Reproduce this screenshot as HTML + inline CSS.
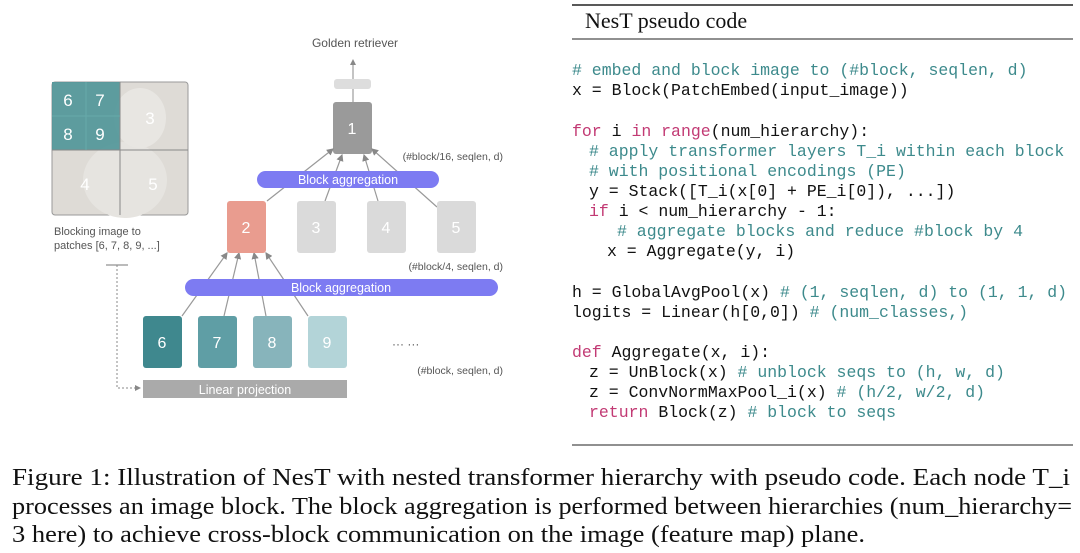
<!DOCTYPE html>
<html><head><meta charset="utf-8"><style>body{margin:0;background:#fff}svg{display:block}</style></head>
<body>
<svg width="1080" height="553" viewBox="0 0 1080 553" xmlns="http://www.w3.org/2000/svg" font-family="Liberation Sans, sans-serif">
<defs><marker id="a" markerWidth="6" markerHeight="6" refX="5" refY="3" orient="auto"><path d="M0,0L6,3L0,6z" fill="#888"/></marker></defs>
<!-- image grid -->
<rect x="52" y="82" width="136" height="133" rx="3" fill="#dedbd6" stroke="#999"/>
<ellipse cx="125" cy="180" rx="42" ry="38" fill="#e6e4e0"/>
<ellipse cx="140" cy="118" rx="26" ry="30" fill="#e8e6e2"/>
<rect x="52" y="82" width="68" height="68" fill="#4f9598" opacity="0.9"/>
<line x1="120" y1="82" x2="120" y2="215" stroke="#888"/>
<line x1="52" y1="150" x2="188" y2="150" stroke="#888"/>
<line x1="86" y1="82" x2="86" y2="150" stroke="#6aa" />
<line x1="52" y1="116" x2="120" y2="116" stroke="#6aa"/>
<g fill="#fff" font-size="17" text-anchor="middle">
<text x="68" y="106">6</text><text x="100" y="106">7</text><text x="68" y="140">8</text><text x="100" y="140">9</text>
<text x="150" y="124">3</text><text x="85" y="190">4</text><text x="153" y="190">5</text></g>
<g fill="#555" font-size="11"><text x="54" y="235">Blocking image to</text><text x="54" y="249">patches [6, 7, 8, 9, ...]</text></g>
<line x1="106" y1="265" x2="128" y2="265" stroke="#777"/>
<path d="M117,265 V388 H140" fill="none" stroke="#888" stroke-dasharray="2,2" marker-end="url(#a)"/>
<!-- tree -->
<text x="355" y="47" fill="#555" font-size="12" text-anchor="middle">Golden retriever</text>
<line x1="353" y1="102" x2="353" y2="60" stroke="#888" marker-end="url(#a)"/>
<rect x="334" y="79" width="37" height="10" rx="3" fill="#ddd"/>
<rect x="333" y="102" width="39" height="52" rx="3" fill="#9a9a9a"/>
<text x="352" y="134" fill="#fff" font-size="16" text-anchor="middle">1</text>
<g stroke="#999" stroke-width="1.2" marker-end="url(#a)">
<line x1="267" y1="201" x2="333" y2="149"/><line x1="325" y1="201" x2="342" y2="155"/>
<line x1="378" y1="201" x2="364" y2="155"/><line x1="437" y1="207" x2="372" y2="149"/>
<line x1="182" y1="316" x2="227" y2="253"/><line x1="224" y1="316" x2="239" y2="253"/>
<line x1="266" y1="316" x2="254" y2="253"/><line x1="308" y1="316" x2="266" y2="253"/>
</g>
<rect x="257" y="171" width="182" height="17" rx="8.5" fill="#7d7bf2"/>
<text x="348" y="184" fill="#fff" font-size="12.5" text-anchor="middle">Block aggregation</text>
<text x="503" y="160" fill="#555" font-size="10.5" text-anchor="end">(#block/16, seqlen, d)</text>
<rect x="227" y="201" width="39" height="52" rx="3" fill="#e99c8f"/>
<rect x="297" y="201" width="39" height="52" rx="3" fill="#dadada"/>
<rect x="367" y="201" width="39" height="52" rx="3" fill="#dadada"/>
<rect x="437" y="201" width="39" height="52" rx="3" fill="#dadada"/>
<g fill="#fff" font-size="16" text-anchor="middle"><text x="246" y="233">2</text><text x="316" y="233">3</text><text x="386" y="233">4</text><text x="456" y="233">5</text></g>
<text x="503" y="270" fill="#555" font-size="10.5" text-anchor="end">(#block/4, seqlen, d)</text>
<rect x="185" y="279" width="313" height="17" rx="8.5" fill="#7d7bf2"/>
<text x="341" y="292" fill="#fff" font-size="12.5" text-anchor="middle">Block aggregation</text>
<rect x="143" y="316" width="39" height="52" rx="3" fill="#3f888e"/>
<rect x="198" y="316" width="39" height="52" rx="3" fill="#5f9ea5"/>
<rect x="253" y="316" width="39" height="52" rx="3" fill="#87b4bb"/>
<rect x="308" y="316" width="39" height="52" rx="3" fill="#b3d4d8"/>
<g fill="#fff" font-size="16" text-anchor="middle"><text x="162" y="348">6</text><text x="217" y="348">7</text><text x="272" y="348">8</text><text x="327" y="348">9</text></g>
<text x="392" y="348" fill="#555" font-size="12">···  ···</text>
<text x="503" y="374" fill="#555" font-size="10.5" text-anchor="end">(#block, seqlen, d)</text>
<rect x="143" y="380" width="204" height="18" fill="#aaa"/>
<text x="245" y="394" fill="#fff" font-size="12.5" text-anchor="middle">Linear projection</text>
<!-- code panel -->
<line x1="572" y1="5" x2="1073" y2="5" stroke="#222" stroke-width="1.5"/>
<text x="585" y="28" font-family="Liberation Serif, serif" font-size="22" fill="#111">NesT pseudo code</text>
<line x1="572" y1="39" x2="1073" y2="39" stroke="#222" stroke-width="1"/>
<line x1="572" y1="445" x2="1073" y2="445" stroke="#222" stroke-width="1"/>
<g font-family="Liberation Mono, monospace" font-size="16.5" fill="#111" xml:space="preserve">
<text x="572" y="75" fill="#3d8a8c"># embed and block image to (#block, seqlen, d)</text>
<text x="572" y="95">x = Block(PatchEmbed(input_image))</text>
<text x="572" y="136"><tspan fill="#c23a74">for</tspan> i <tspan fill="#c23a74">in</tspan> <tspan fill="#c23a74">range</tspan>(num_hierarchy):</text>
<text x="589" y="156" fill="#3d8a8c"># apply transformer layers T_i within each block</text>
<text x="589" y="176" fill="#3d8a8c"># with positional encodings (PE)</text>
<text x="589" y="196">y = Stack([T_i(x[0] + PE_i[0]), ...])</text>
<text x="589" y="216"><tspan fill="#c23a74">if</tspan> i &lt; num_hierarchy - 1:</text>
<text x="617" y="236" fill="#3d8a8c"># aggregate blocks and reduce #block by 4</text>
<text x="607" y="256">x = Aggregate(y, i)</text>
<text x="572" y="297">h = GlobalAvgPool(x) <tspan fill="#3d8a8c"># (1, seqlen, d) to (1, 1, d)</tspan></text>
<text x="572" y="317">logits = Linear(h[0,0]) <tspan fill="#3d8a8c"># (num_classes,)</tspan></text>
<text x="572" y="357"><tspan fill="#c23a74">def</tspan> Aggregate(x, i):</text>
<text x="589" y="377">z = UnBlock(x) <tspan fill="#3d8a8c"># unblock seqs to (h, w, d)</tspan></text>
<text x="589" y="397">z = ConvNormMaxPool_i(x) <tspan fill="#3d8a8c"># (h/2, w/2, d)</tspan></text>
<text x="589" y="417"><tspan fill="#c23a74">return</tspan> Block(z) <tspan fill="#3d8a8c"># block to seqs</tspan></text>
</g>
<g font-family="Liberation Serif, serif" font-size="24" fill="#111">
<text x="12" y="485" textLength="1058" lengthAdjust="spacingAndGlyphs">Figure 1: Illustration of NesT with nested transformer hierarchy with pseudo code. Each node T_i</text>
<text x="12" y="514" textLength="1060" lengthAdjust="spacingAndGlyphs">processes an image block. The block aggregation is performed between hierarchies (num_hierarchy=</text>
<text x="12" y="542" textLength="853" lengthAdjust="spacingAndGlyphs">3 here) to achieve cross-block communication on the image (feature map) plane.</text>
</g>
</svg>
</body></html>
